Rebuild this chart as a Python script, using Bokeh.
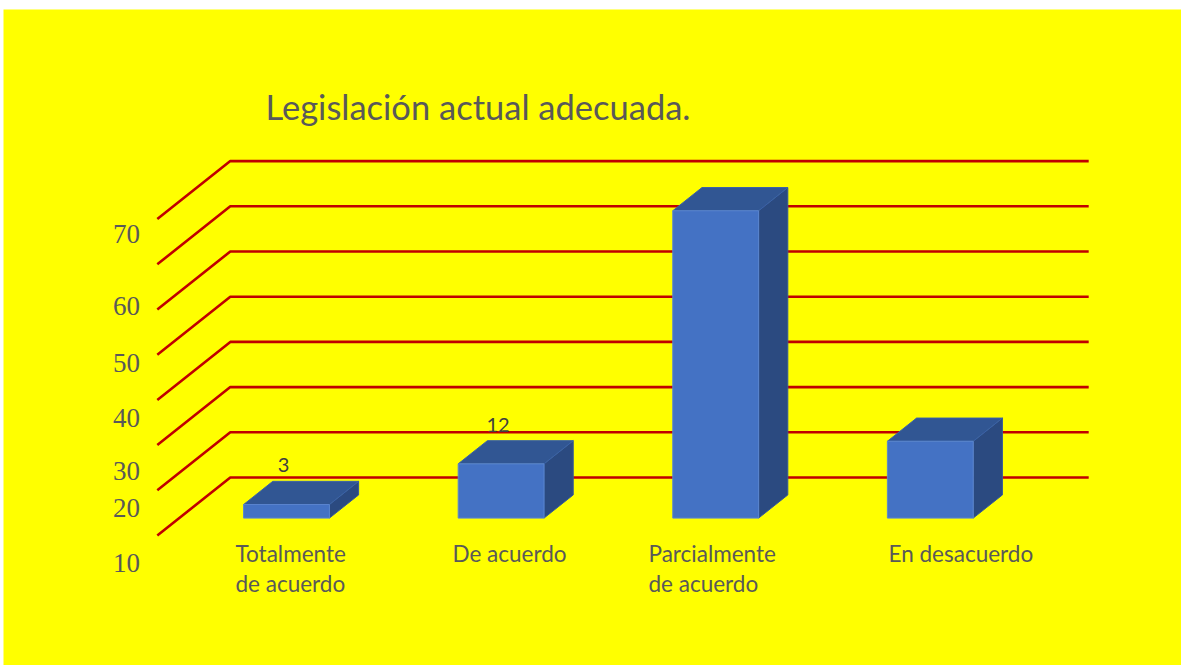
from bokeh.plotting import figure
from bokeh.models import Range1d
from bokeh.core.properties import value
from bokeh.embed import file_html
from bokeh.resources import INLINE

# ---- data ----
categories = ["Totalmente de acuerdo", "De acuerdo", "Parcialmente de acuerdo", "En desacuerdo"]
cat_labels = ["Totalmente\nde acuerdo", "De acuerdo", "Parcialmente\nde acuerdo", "En desacuerdo"]
values = [3, 12, 68, 17]
data_labels = ["3", "12", "", ""]
grid_values = [0, 10, 20, 30, 40, 50, 60, 70]
ytick_labels = ["70", "60", "50", "40", "30", "20", "10"]
title_text = "Legislación actual adecuada."

# ---- layout (picture pixels -> data units) ----
W, H = 1181, 665
LEFT_B, TOP_B = 3, 9
PX_PER_CAT = 214.6
PX_PER_UNIT = 4.52
X0_PX = 264.1      # x of category 0 centre at front of floor
Y0_PX = 535.0      # y of value 0 at front of floor


def px2x(px):
    return (px - X0_PX) / PX_PER_CAT


def py2y(py):
    return (Y0_PX - py) / PX_PER_UNIT


DX = 73 / PX_PER_CAT       # full depth offset in x units
DY = 58 / PX_PER_UNIT      # full depth offset in y units
BAR_W = 0.40
D_FRONT, D_BACK = 0.30, 0.70
FLOOR_L, FLOOR_R = -0.5, 3.5

p = figure(width=W, height=H, output_backend="svg", toolbar_location=None,
           x_range=Range1d(px2x(LEFT_B), px2x(W)),
           y_range=Range1d(py2y(H), py2y(TOP_B)),
           min_border=0, min_border_left=LEFT_B, min_border_top=TOP_B,
           background_fill_color="#FFFF00", border_fill_color="#FFFFFF",
           outline_line_color=None)
p.axis.visible = False
p.grid.visible = False

# ---- gridlines: side wall diagonal + back wall ----
gxs, gys = [], []
for g in grid_values:
    gxs.append([FLOOR_L, FLOOR_L + DX, FLOOR_R + DX])
    gys.append([g, g + DY, g + DY])
p.multi_line(gxs, gys, line_color="#C00000", line_width=2.6)

# ---- bars ----
front_l, front_r, front_b, front_t = [], [], [], []
top_xs, top_ys, side_xs, side_ys = [], [], [], []
ddx = (D_BACK - D_FRONT) * DX
ddy = (D_BACK - D_FRONT) * DY
for i, v in enumerate(values):
    l = i - BAR_W / 2 + D_FRONT * DX
    r = i + BAR_W / 2 + D_FRONT * DX
    b = D_FRONT * DY
    t = v + D_FRONT * DY
    front_l.append(l); front_r.append(r); front_b.append(b); front_t.append(t)
    top_xs.append([l, r, r + ddx, l + ddx])
    top_ys.append([t, t, t + ddy, t + ddy])
    side_xs.append([r, r + ddx, r + ddx, r])
    side_ys.append([b, b + ddy, t + ddy, t])

p.patches(side_xs, side_ys, fill_color="#2B4A80", line_color="#35599A", line_width=1)
p.patches(top_xs, top_ys, fill_color="#315693", line_color="#3A62A8", line_width=1)
p.quad(left=front_l, right=front_r, bottom=front_b, top=front_t,
       fill_color="#4472C4", line_color="#5A85CF", line_width=1)

# ---- data labels ----
lab_x = [i + D_FRONT * DX - 3 / PX_PER_CAT for i in range(len(values))]
lab_y = [v + D_BACK * DY + 16 / PX_PER_UNIT for v in values]
p.text(lab_x, lab_y, text=data_labels, text_align="center", text_baseline="alphabetic",
       text_font=value("Lato"), text_font_size="20px", text_color="#404040")

# ---- category labels ----
cat_px = [235, 452, 648, 888]
p.text([px2x(x) for x in cat_px], [py2y(539)] * 4, text=cat_labels,
       text_align="left", text_baseline="top", text_line_height=1.12,
       text_font=value("Lato"), text_font_size="22.5px", text_color="#595959")

# ---- y labels (serif) ----
ylab_py = [233, 305, 362, 417, 470, 507, 562]
p.text([px2x(126)] * len(ytick_labels), [py2y(y) for y in ylab_py], text=ytick_labels,
       text_align="center", text_baseline="middle",
       text_font=value("Liberation Serif"), text_font_size="27px", text_color="#595959")

# ---- title ----
p.text([px2x(265)], [py2y(106)], text=[title_text], text_align="left",
       text_baseline="alphabetic", text_font=value("Lato"), text_font_size="34.5px",
       text_color="#595959")

open("out.html", "w").write(file_html(p, INLINE))
